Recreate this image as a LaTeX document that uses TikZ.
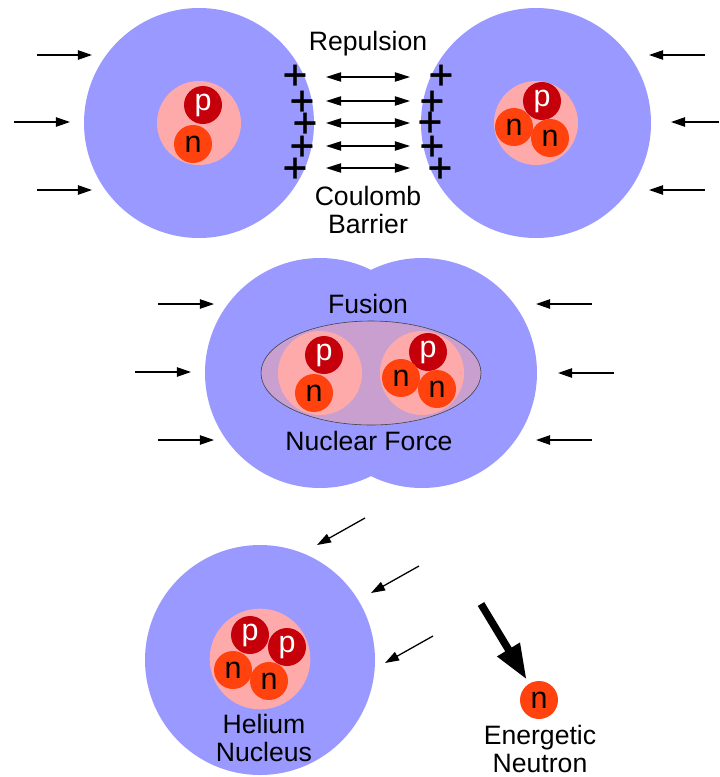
\documentclass[tikz,border=0pt]{standalone}
\usepackage{fontspec}
\setmainfont{Liberation Sans}
\newfontfamily\chargefont[FakeBold=0.9]{Liberation Sans}
\usetikzlibrary{arrows.meta,shapes.geometric}
\definecolor{atomblue}{HTML}{9999FF}
\definecolor{corepink}{HTML}{FFAAAA}
\definecolor{protonred}{HTML}{C5000B}
\definecolor{neutronred}{HTML}{FF420E}
\definecolor{overlap}{HTML}{C99FD0}
\tikzset{
  atom/.style={circle,fill=atomblue,minimum size=6.9cm,inner sep=0pt},
  core/.style={circle,fill=corepink,minimum size=2.52cm,inner sep=0pt},
  bigcore/.style={circle,fill=corepink,minimum size=3.02cm,inner sep=0pt},
  proton/.style={circle,fill=protonred,text=white,minimum size=1.14cm,inner sep=0pt,font=\fontsize{26}{26}\selectfont},
  neutron/.style={circle,fill=neutronred,text=black,minimum size=1.14cm,inner sep=0pt,font=\fontsize{26}{26}\selectfont},
  label/.style={align=center,font=\fontsize{22.7}{24.7}\selectfont},
  charge/.style={inner sep=0pt,font=\fontsize{36}{36}\chargefont},
  push/.style={line width=1.1pt,-{Triangle[length=12pt,width=8pt]}},
  repel/.style={line width=1.1pt,{Triangle[length=13pt,width=8pt]}-{Triangle[length=13pt,width=8pt]}},
  kick/.style={line width=6.4pt,-{Triangle[length=30pt,width=21pt]}}
}
\begin{document}
\begin{tikzpicture}[x=0.03cm,y=-0.03cm]
\useasboundingbox (0,0) rectangle (719,777);
% two separate deuterium and tritium atoms
\node[atom] (atomL) at (199,123) {};
\node[atom] (atomR) at (536,123) {};
\node[core] (coreL) at (199,123) {};
\node[core] (coreR) at (536,123) {};
\node[proton] (pL) at (203,105) {p};
\node[neutron] (nL) at (193,144) {n};
\node[proton] (pR) at (542,101) {p};
\node[neutron] (nR1) at (514,127) {n};
\node[neutron] (nR2) at (550,138) {n};
% charges on both faces
\node[charge] (qL1) at (295,77) {+};
\node[charge] (qL2) at (302,103) {+};
\node[charge] (qL3) at (305,125) {+};
\node[charge] (qL4) at (302,148) {+};
\node[charge] (qL5) at (295,170) {+};
\node[charge] (qR1) at (441,77) {+};
\node[charge] (qR2) at (432,103) {+};
\node[charge] (qR3) at (430,124) {+};
\node[charge] (qR4) at (432,148) {+};
\node[charge] (qR5) at (440,170) {+};
% repulsion arrows
\coordinate (r1a) at (326,77); \coordinate (r1b) at (410,77);
\coordinate (r2a) at (326,101); \coordinate (r2b) at (410,101);
\coordinate (r3a) at (326,123); \coordinate (r3b) at (410,123);
\coordinate (r4a) at (326,146); \coordinate (r4b) at (410,146);
\coordinate (r5a) at (326,168); \coordinate (r5b) at (410,168);
\draw[repel] (r1a) -- (r1b);
\draw[repel] (r2a) -- (r2b);
\draw[repel] (r3a) -- (r3b);
\draw[repel] (r4a) -- (r4b);
\draw[repel] (r5a) -- (r5b);
\node[label] (repulsion) at (368,44) {Repulsion};
\node[label] (barrier) at (368,210) {Coulomb\\Barrier};
% outer pressure, top row
\coordinate (t1a) at (37,55); \coordinate (t1b) at (92,55);
\coordinate (t2a) at (14,122); \coordinate (t2b) at (70,122);
\coordinate (t3a) at (37,190); \coordinate (t3b) at (92,190);
\coordinate (t4a) at (705,55); \coordinate (t4b) at (649,55);
\coordinate (t5a) at (719,122); \coordinate (t5b) at (671,122);
\coordinate (t6a) at (705,190); \coordinate (t6b) at (649,190);
\draw[push] (t1a) -- (t1b);
\draw[push] (t2a) -- (t2b);
\draw[push] (t3a) -- (t3b);
\draw[push] (t4a) -- (t4b);
\draw[push] (t5a) -- (t5b);
\draw[push] (t6a) -- (t6b);
% merging pair
\node[atom] (atomA) at (320,373) {};
\node[atom] (atomB) at (422,373) {};
\node[draw=black!75,line width=0.5pt,fill=overlap,ellipse,minimum width=6.6cm,minimum height=3.12cm,inner sep=0pt] (well) at (371,373) {};
\node[core] (coreA) at (320,373) {};
\node[core] (coreB) at (422,373) {};
\node[proton] (pA) at (324,355) {p};
\node[neutron] (nA) at (314,393) {n};
\node[proton] (pB) at (428,352) {p};
\node[neutron] (nB1) at (401,378) {n};
\node[neutron] (nB2) at (437,389) {n};
\node[label] (fusion) at (368,304) {Fusion};
\node[label] (force) at (369,441) {Nuclear Force};
% outer pressure, middle row
\coordinate (m1a) at (158,304); \coordinate (m1b) at (214,304);
\coordinate (m2a) at (135,372); \coordinate (m2b) at (191,372);
\coordinate (m3a) at (158,440); \coordinate (m3b) at (214,440);
\coordinate (m4a) at (592,304); \coordinate (m4b) at (536,304);
\coordinate (m5a) at (614,373); \coordinate (m5b) at (558,373);
\coordinate (m6a) at (592,440); \coordinate (m6b) at (536,440);
\draw[push] (m1a) -- (m1b);
\draw[push] (m2a) -- (m2b);
\draw[push] (m3a) -- (m3b);
\draw[push] (m4a) -- (m4b);
\draw[push] (m5a) -- (m5b);
\draw[push] (m6a) -- (m6b);
% helium and the free neutron
\node[atom] (atomHe) at (260,660) {};
\node[bigcore] (coreHe) at (260,659) {};
\node[proton] (pHe1) at (250,635) {p};
\node[proton] (pHe2) at (287,647) {p};
\node[neutron] (nHe1) at (233,670) {n};
\node[neutron] (nHe2) at (269,681) {n};
\node[label] (helium) at (264,738) {Helium\\Nucleus};
\node[neutron] (nFree) at (539,700) {n};
\node[label] (energetic) at (540,749) {Energetic\\Neutron};
\coordinate (k1) at (481,604);
\draw[kick,shorten >=4pt] (k1) -- (nFree);
% outer pressure, bottom row
\coordinate (b1a) at (365,518); \coordinate (b1b) at (317,545);
\coordinate (b2a) at (419,566); \coordinate (b2b) at (371,593);
\coordinate (b3a) at (433,636); \coordinate (b3b) at (385,663);
\draw[push] (b1a) -- (b1b);
\draw[push] (b2a) -- (b2b);
\draw[push] (b3a) -- (b3b);
\end{tikzpicture}
\end{document}
